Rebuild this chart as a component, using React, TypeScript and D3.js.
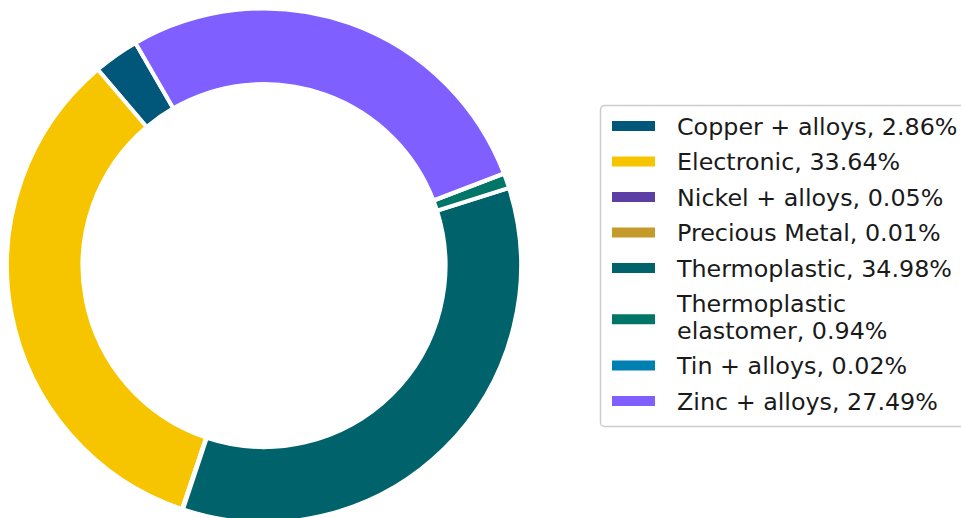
import React from "react";
import * as d3 from "d3";

const categories = [
  "Copper + alloys",
  "Electronic",
  "Nickel + alloys",
  "Precious Metal",
  "Thermoplastic",
  "Thermoplastic elastomer",
  "Tin + alloys",
  "Zinc + alloys",
];
const values = [2.86, 33.64, 0.05, 0.01, 34.98, 0.94, 0.02, 27.49];
const colors = [
  "#00577a",
  "#f7c500",
  "#5b3fa5",
  "#c49b2a",
  "#00636c",
  "#007568",
  "#0080b0",
  "#7f5fff",
];
const legendLines = [
  ["Copper + alloys, 2.86%"],
  ["Electronic, 33.64%"],
  ["Nickel + alloys, 0.05%"],
  ["Precious Metal, 0.01%"],
  ["Thermoplastic, 34.98%"],
  ["Thermoplastic", "elastomer, 0.94%"],
  ["Tin + alloys, 0.02%"],
  ["Zinc + alloys, 27.49%"],
];

export default function App() {
  const W = 961;
  const H = 518;
  const cx = 264;
  const cy = 265.5;
  const outer = 257;
  const inner = 181.5;
  const startDeg = 120; // math convention, counterclockwise
  const toRad = (d: number) => (d * Math.PI) / 180;

  const pie = d3
    .pie<number>()
    .sort(null)
    .value((d) => d)
    .startAngle(toRad(90 - startDeg))
    .endAngle(toRad(90 - startDeg - 360));
  const arcs = pie(values);
  const arc = d3.arc<d3.PieArcDatum<number>>().innerRadius(inner).outerRadius(outer);

  // legend layout
  const lx = 600;
  const ly = 105;
  const lineH = 26.5;
  const rowGap = 9;
  let y = ly + 7.75;
  const rows = legendLines.map((lines, i) => {
    const h = lines.length * lineH;
    const top = y;
    y += h + rowGap;
    return { lines, i, top, h };
  });
  const boxH = 321;

  return (
    <svg
      width={W}
      height={H}
      style={{ position: "absolute", left: 0, top: 0, background: "#fff" }}
      fontFamily="DejaVu Sans"
    >
      <g transform={`translate(${cx},${cy})`}>
        {arcs.map((a, i) => (
          <path
            key={i}
            d={arc(a) || ""}
            fill={colors[i]}
            stroke="#fff"
            strokeWidth={4}
            strokeLinejoin="miter"
          />
        ))}
      </g>
      <rect
        x={lx + 0.5}
        y={ly + 0.5}
        width={420}
        height={boxH}
        rx={4}
        fill="#fff"
        fillOpacity={0.8}
        stroke="#cccccc"
        strokeWidth={1.5}
      />
      {rows.map((r) => {
        const mid = r.top + r.h / 2 + (r.lines.length > 1 ? 2.5 : 0);
        return (
          <g key={r.i}>
            <rect x={612} y={mid - 5} width={43} height={10} fill={colors[r.i]} />
            {r.lines.map((t, j) => (
              <text
                key={j}
                x={677}
                y={r.top + lineH / 2 + j * lineH}
                dy="0.36em"
                fontSize={23.8}
                fill="#1a1a1a"
              >
                {t}
              </text>
            ))}
          </g>
        );
      })}
    </svg>
  );
}
